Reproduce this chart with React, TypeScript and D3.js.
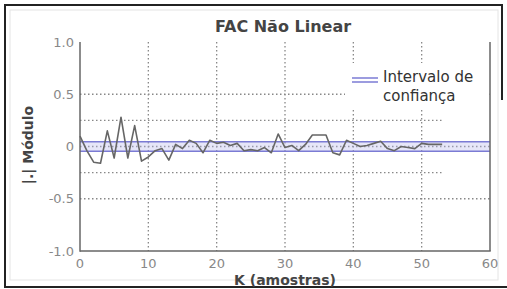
import { useEffect, useRef } from "react";
import * as d3 from "d3";

// lag k = 0..53
const lags = d3.range(0, 54);
const facValues = [
  0.1, -0.04, -0.15, -0.16, 0.15, -0.11, 0.28, -0.11, 0.2, -0.14,
  -0.1, -0.04, -0.02, -0.13, 0.02, -0.02, 0.06, 0.03, -0.06, 0.06,
  0.03, 0.04, 0.01, 0.03, -0.04, -0.03, -0.04, -0.01, -0.06, 0.12,
  -0.01, 0.01, -0.04, 0.02, 0.11, 0.11, 0.11, -0.06, -0.08, 0.06,
  0.03, 0.0, 0.01, 0.03, 0.05, -0.02, -0.04, 0.0, -0.01, -0.02,
  0.03, 0.02, 0.02, 0.02,
];
const confLimit = 0.045;
const xTicks = [0, 10, 20, 30, 40, 50, 60];
const yTicks = [-1, -0.5, 0, 0.5, 1];
const yTickLabels = ["-1.0", "-0.5", "0", "0.5", "1.0"];
const extraLevels = [0.25, -0.25];

export default function App() {
  const ref = useRef<SVGSVGElement>(null);

  useEffect(() => {
    const svg = d3.select(ref.current).html("");
    const W = 507, H = 289;
    const x = d3.scaleLinear().domain([0, 60]).range([80, 490]);
    const y = d3.scaleLinear().domain([-1, 1]).range([251, 42]);
    const font = "DejaVu Sans, Verdana, sans-serif";

    svg.append("rect").attr("width", W).attr("height", H).attr("fill", "#fff");

    // frame
    svg.append("rect").attr("x", 10).attr("y", 10).attr("width", 488).attr("height", 270)
      .attr("fill", "none").attr("stroke", "#e4e4e4").attr("stroke-width", 1);
    const frame = svg.append("g").attr("stroke", "#222").attr("stroke-width", 2);
    frame.append("line").attr("x1", 4).attr("x2", 503).attr("y1", 5).attr("y2", 5);
    frame.append("line").attr("x1", 5).attr("x2", 5).attr("y1", 4).attr("y2", 288);
    frame.append("line").attr("x1", 4).attr("x2", 507).attr("y1", 287).attr("y2", 287);
    frame.append("line").attr("x1", 502).attr("x2", 502).attr("y1", 4).attr("y2", 100);

    const grid = svg.append("g").attr("stroke", "#888").attr("stroke-width", 1.3)
      .attr("stroke-dasharray", "1.5,2.5").attr("fill", "none");
    xTicks.slice(1, -1).forEach((t) => {
      grid.append("line").attr("x1", x(t)).attr("x2", x(t)).attr("y1", y(1)).attr("y2", y(-1));
    });
    [0.5, 0, -0.5].forEach((v) => {
      grid.append("line").attr("x1", x(0)).attr("x2", x(60)).attr("y1", y(v)).attr("y2", y(v));
    });
    extraLevels.forEach((v) => {
      grid.append("line").attr("x1", x(0)).attr("x2", x(53)).attr("y1", y(v)).attr("y2", y(v));
    });

    // confidence band
    svg.append("rect").attr("x", x(0)).attr("width", x(60) - x(0))
      .attr("y", y(confLimit)).attr("height", y(-confLimit) - y(confLimit))
      .attr("fill", "#b8b8ec").attr("opacity", 0.35);
    [confLimit, -confLimit].forEach((v) => {
      svg.append("line").attr("x1", x(0)).attr("x2", x(60)).attr("y1", y(v)).attr("y2", y(v))
        .attr("stroke", "#7b7bd4").attr("stroke-width", 1.5);
    });

    // series
    const line = d3.line<number>().x((_, i) => x(lags[i])).y((d) => y(d));
    svg.append("path").attr("d", line(facValues)).attr("fill", "none")
      .attr("stroke", "#666").attr("stroke-width", 1.6).attr("stroke-linejoin", "round");

    // axes lines
    const ax = svg.append("g").attr("stroke", "#666").attr("stroke-width", 1.5);
    ax.append("line").attr("x1", x(0)).attr("x2", x(0)).attr("y1", y(1)).attr("y2", y(-1) + 0.75);
    ax.append("line").attr("x1", x(0)).attr("x2", x(60) + 0.75).attr("y1", y(-1)).attr("y2", y(-1));
    ax.append("line").attr("x1", x(60)).attr("x2", x(60)).attr("y1", y(1)).attr("y2", y(-1));

    // tick labels
    svg.append("g").selectAll("text").data(yTicks).join("text")
      .attr("x", 74).attr("y", (d) => y(d) + 4.5).attr("text-anchor", "end")
      .attr("font-family", font).attr("font-size", 13).attr("fill", "#888")
      .text((_, i) => yTickLabels[i]);
    svg.append("g").selectAll("text").data(xTicks).join("text")
      .attr("x", (d) => x(d)).attr("y", 268).attr("text-anchor", "middle")
      .attr("font-family", font).attr("font-size", 13).attr("fill", "#888")
      .text((d) => String(d));

    // legend
    svg.append("rect").attr("x", 345).attr("y", 63).attr("width", 144).attr("height", 45).attr("fill", "#fff");
    [78, 82].forEach((yy) => {
      svg.append("line").attr("x1", 352).attr("x2", 378).attr("y1", yy).attr("y2", yy)
        .attr("stroke", "#7b7bd4").attr("stroke-width", 1.5);
    });
    svg.append("text").attr("x", 383).attr("y", 82).attr("font-family", font).attr("font-size", 15)
      .attr("fill", "#333").text("Intervalo de");
    svg.append("text").attr("x", 383).attr("y", 101).attr("font-family", font).attr("font-size", 15)
      .attr("fill", "#333").text("confiança");

    // titles
    svg.append("text").attr("x", 283).attr("y", 32).attr("text-anchor", "middle")
      .attr("font-family", font).attr("font-size", 16).attr("font-weight", "bold")
      .attr("fill", "#444").text("FAC Não Linear");
    svg.append("text").attr("x", 285).attr("y", 285).attr("text-anchor", "middle")
      .attr("font-family", font).attr("font-size", 14).attr("font-weight", "bold")
      .attr("fill", "#444").text("K (amostras)");
    svg.append("text").attr("transform", `translate(33,145) rotate(-90)`).attr("text-anchor", "middle")
      .attr("font-family", font).attr("font-size", 14).attr("font-weight", "bold")
      .attr("fill", "#444").text("|.| Módulo");
  }, []);

  return (
    <svg ref={ref} width={507} height={289}
      style={{ position: "fixed", left: 0, top: 0, display: "block" }} />
  );
}
